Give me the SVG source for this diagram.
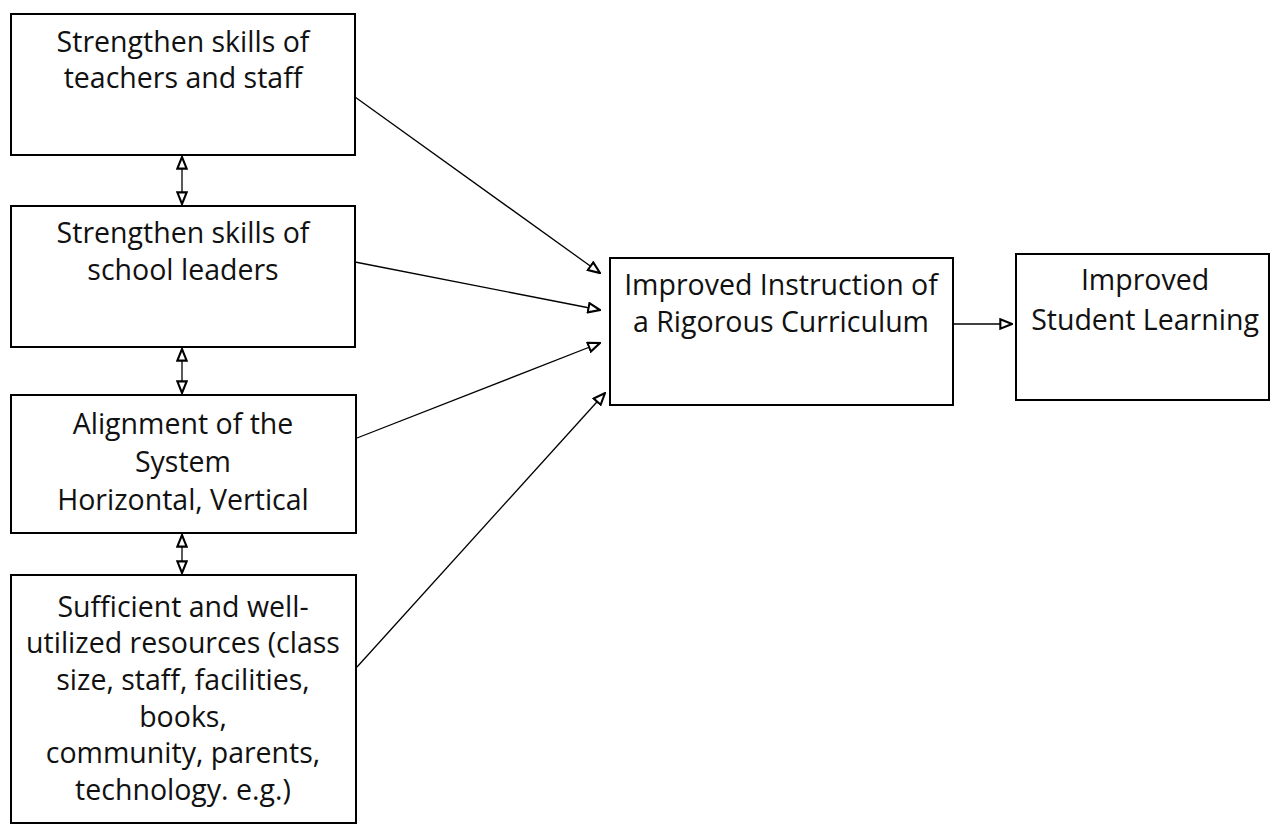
<svg xmlns="http://www.w3.org/2000/svg" width="1271" height="827" viewBox="0 0 1271 827">
<style>
.box{fill:#fff;stroke:#000;stroke-width:2}
.t{font-family:"Open Sans",Lato,"Liberation Sans",sans-serif;font-size:28.5px;fill:#111;text-anchor:middle}
.c{stroke:#000;stroke-width:1.3;fill:none}
</style>
<defs>
<marker id="ah" markerUnits="userSpaceOnUse" markerWidth="14" markerHeight="12" refX="11" refY="5" orient="auto-start-reverse" viewBox="0 0 12 10">
<path d="M1,1 L11,5 L1,9 Z" fill="#fff" stroke="#000" stroke-width="1.8"/>
</marker>
</defs>
<rect width="1271" height="827" fill="#fff"/>
<g id="connectors">
<line class="c" x1="355" y1="97" x2="600" y2="273" marker-end="url(#ah)"/>
<line class="c" x1="355" y1="262" x2="600" y2="310" marker-end="url(#ah)"/>
<line class="c" x1="357" y1="438" x2="600" y2="343" marker-end="url(#ah)"/>
<line class="c" x1="357" y1="667" x2="605" y2="393" marker-end="url(#ah)"/>
<line class="c" x1="953" y1="324" x2="1012" y2="324" marker-end="url(#ah)"/>
<line class="c" x1="182" y1="157" x2="182" y2="204" marker-start="url(#ah)" marker-end="url(#ah)"/>
<line class="c" x1="182" y1="349" x2="182" y2="393" marker-start="url(#ah)" marker-end="url(#ah)"/>
<line class="c" x1="182" y1="535" x2="182" y2="573" marker-start="url(#ah)" marker-end="url(#ah)"/>
</g>
<g id="n1">
<rect class="box" x="11" y="14" width="344" height="141"/>
<text class="t" x="183" y="52">Strengthen skills of</text>
<text class="t" x="183" y="88">teachers and staff</text>
</g>
<g id="n2">
<rect class="box" x="11" y="206" width="344" height="141"/>
<text class="t" x="183" y="243">Strengthen skills of</text>
<text class="t" x="183" y="280">school leaders</text>
</g>
<g id="n3">
<rect class="box" x="11" y="395" width="345" height="138"/>
<text class="t" x="183" y="434">Alignment of the</text>
<text class="t" x="183" y="472">System</text>
<text class="t" x="183" y="510">Horizontal, Vertical</text>
</g>
<g id="n4">
<rect class="box" x="11" y="575" width="345" height="248"/>
<text class="t" x="183" y="617">Sufficient and well-</text>
<text class="t" x="183" y="653">utilized resources (class</text>
<text class="t" x="183" y="690">size, staff, facilities,</text>
<text class="t" x="183" y="727">books,</text>
<text class="t" x="183" y="763">community, parents,</text>
<text class="t" x="183" y="800">technology. e.g.)</text>
</g>
<g id="n5">
<rect class="box" x="610" y="258" width="343" height="147"/>
<text class="t" x="781" y="295">Improved Instruction of</text>
<text class="t" x="781" y="332">a Rigorous Curriculum</text>
</g>
<g id="n6">
<rect class="box" x="1016" y="254" width="253" height="146"/>
<text class="t" x="1145" y="290">Improved</text>
<text class="t" x="1145" y="330">Student Learning</text>
</g>
</svg>
